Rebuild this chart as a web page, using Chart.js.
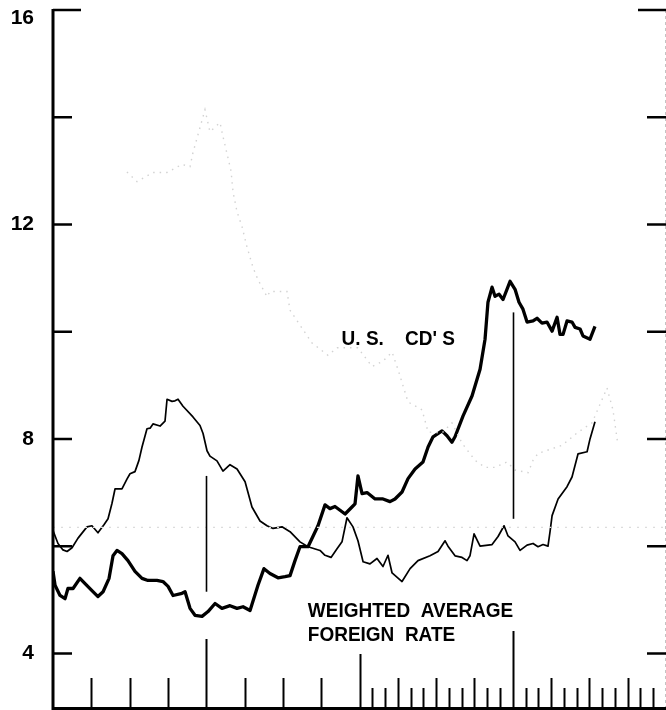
<!DOCTYPE html>
<html>
<head>
<meta charset="utf-8">
<title>U.S. CD's vs weighted average foreign rate</title>
<script src="https://cdn.jsdelivr.net/npm/chart.js@4/dist/chart.umd.min.js"></script>
<style>
  html, body { margin: 0; padding: 0; background: #fff; }
  canvas { display: block; }
</style>
</head>
<body>
<canvas id="rateChart" width="666" height="710"></canvas>
<script>
// time axis is in months from the left edge (4 years = 48 months)
const cdMonths = [0, 0.16, 0.55, 0.94, 1.17, 1.57, 2.11, 2.51, 3.05, 3.52, 3.92, 4.39, 4.7, 5.01, 5.4, 5.87, 6.42, 6.97, 7.44, 8.14, 8.61, 9.01, 9.4, 10.1, 10.34, 10.73, 11.12, 11.67, 12.14, 12.69, 13.23, 13.86, 14.41, 14.88, 15.43, 16.05, 16.52, 16.99, 17.62, 18.17, 18.56, 18.95, 19.34, 19.97, 20.75, 21.3, 21.69, 22.08, 22.87, 23.41, 23.65, 23.88, 24.2, 24.59, 25.22, 25.84, 26.39, 26.78, 27.33, 27.8, 28.35, 28.97, 29.37, 29.76, 30.46, 30.85, 31.24, 31.48, 32.11, 32.81, 33.44, 33.83, 34.06, 34.38, 34.61, 34.93, 35.24, 35.79, 36.18, 36.49, 36.8, 37.12, 37.59, 37.9, 38.29, 38.68, 39.08, 39.47, 39.7, 39.94, 40.25, 40.64, 40.88, 41.27, 41.5, 42.05, 42.44];
const cdRates = [5.53, 5.27, 5.08, 5.02, 5.21, 5.21, 5.4, 5.3, 5.17, 5.06, 5.15, 5.4, 5.82, 5.92, 5.86, 5.73, 5.53, 5.4, 5.36, 5.36, 5.34, 5.25, 5.08, 5.12, 5.15, 4.84, 4.71, 4.69, 4.78, 4.93, 4.84, 4.89, 4.84, 4.87, 4.8, 5.27, 5.58, 5.49, 5.41, 5.43, 5.45, 5.73, 5.99, 5.99, 6.38, 6.77, 6.7, 6.74, 6.6, 6.73, 6.79, 7.31, 6.98, 7.0, 6.88, 6.88, 6.83, 6.88, 7.01, 7.26, 7.44, 7.57, 7.85, 8.04, 8.15, 8.06, 7.94, 8.04, 8.43, 8.8, 9.3, 9.86, 10.55, 10.83, 10.66, 10.7, 10.6, 10.94, 10.79, 10.55, 10.42, 10.18, 10.2, 10.25, 10.16, 10.18, 10.01, 10.27, 9.95, 9.95, 10.2, 10.18, 10.08, 10.05, 9.92, 9.86, 10.1];

const foreignMonths = [0, 0.39, 0.78, 1.1, 1.49, 1.96, 2.66, 3.05, 3.52, 3.99, 4.31, 4.62, 4.86, 5.4, 5.79, 6.03, 6.42, 6.73, 6.97, 7.36, 7.6, 7.83, 8.38, 8.77, 8.93, 9.32, 9.55, 9.79, 10.18, 10.96, 11.51, 11.75, 12.06, 12.29, 12.84, 13.31, 13.86, 14.41, 15.04, 15.58, 16.21, 16.76, 17.23, 17.93, 18.56, 19.34, 19.97, 20.91, 21.3, 21.77, 22.24, 22.63, 23.02, 23.49, 23.88, 24.28, 24.82, 25.37, 25.84, 26.23, 26.55, 27.33, 27.96, 28.58, 29.52, 30.15, 30.7, 30.93, 31.48, 32.03, 32.42, 32.65, 32.97, 33.44, 34.38, 34.85, 35.32, 35.63, 36.18, 36.57, 37.12, 37.59, 37.98, 38.37, 38.76, 38.92, 39.08, 39.55, 40.25, 40.64, 41.11, 41.82, 42.05, 42.44];
const foreignRates = [6.29, 6.05, 5.93, 5.9, 5.97, 6.15, 6.36, 6.38, 6.25, 6.4, 6.51, 6.8, 7.07, 7.07, 7.25, 7.35, 7.39, 7.6, 7.85, 8.19, 8.2, 8.28, 8.24, 8.33, 8.74, 8.7, 8.71, 8.74, 8.61, 8.41, 8.25, 8.1, 7.78, 7.68, 7.59, 7.4, 7.52, 7.44, 7.2, 6.73, 6.47, 6.38, 6.33, 6.36, 6.27, 6.08, 5.99, 5.92, 5.83, 5.79, 5.95, 6.08, 6.53, 6.36, 6.1, 5.71, 5.67, 5.77, 5.62, 5.83, 5.5, 5.34, 5.58, 5.73, 5.82, 5.9, 6.1, 6.0, 5.82, 5.79, 5.73, 5.82, 6.23, 6.0, 6.03, 6.18, 6.38, 6.19, 6.08, 5.92, 6.02, 6.05, 5.99, 6.03, 6.0, 6.27, 6.57, 6.88, 7.11, 7.29, 7.72, 7.76, 8.0, 8.32];

// faint dotted trace showing through the page
const faintMonths = [5.79, 6.58, 7.83, 8.93, 10.1, 10.73, 10.96, 11.9, 12.29, 13.08, 13.31, 13.94, 14.1, 14.41, 14.8, 15.19, 15.66, 16.05, 16.76, 16.99, 18.32, 18.56, 20.28, 21.53, 22.24, 23.88, 24.98, 25.84, 26.55, 27.02, 27.8, 28.9, 29.37, 30.46, 31.24, 32.03, 33.05, 33.83, 34.61, 35.55, 36.18, 37.2, 37.59, 37.98, 39.86, 41.03, 42.21, 43.38, 43.85, 44.24];
const faintRates = [12.98, 12.8, 12.97, 12.97, 13.12, 13.08, 13.34, 14.14, 13.73, 13.9, 13.64, 13.0, 12.6, 12.24, 11.96, 11.58, 11.2, 10.97, 10.65, 10.75, 10.75, 10.4, 9.79, 9.56, 9.7, 9.7, 9.35, 9.45, 9.62, 9.29, 8.69, 8.54, 8.13, 8.11, 8.3, 7.92, 7.6, 7.47, 7.47, 7.57, 7.42, 7.37, 7.6, 7.73, 7.88, 8.11, 8.3, 8.95, 8.54, 7.88];
const faintLevelMonths = [0, 48];
const faintLevelRates = [6.35, 6.35];

const yLabels = [4, 8, 12, 16];
const yTicks = [4, 6, 8, 10, 12, 14, 16];

// vertical marker lines: month, from rate, to rate
const markerMonths = [12, 36];
const markerFrom = [5.15, 6.51];
const markerTo = [7.31, 10.36];

const toPoints = (xs, ys) => xs.map((m, i) => ({ x: m, y: ys[i] }));

const frameColor = "#000";
const labelFont = "bold 20px 'Liberation Sans', Arial, sans-serif";

const textNotes = [
  { text: "U. S.    CD' S", month: 22.6, rate: 9.75 },
  { text: "WEIGHTED  AVERAGE", month: 19.95, rate: 4.68 },
  { text: "FOREIGN  RATE", month: 19.95, rate: 4.23 },
];

const framePlugin = {
  id: "framePlugin",
  afterDatasetsDraw(chart) {
    const { ctx, chartArea, scales } = chart;
    const xs = scales.x;
    const ys = scales.y;
    const left = chartArea.left;
    const right = chartArea.right;
    const top = chartArea.top;
    const bottom = chartArea.bottom;

    ctx.save();
    ctx.strokeStyle = frameColor;
    ctx.lineCap = "butt";

    // marker lines
    ctx.lineWidth = 1.6;
    markerMonths.forEach((m, i) => {
      const px = Math.round(xs.getPixelForValue(m)) + 0.5;
      ctx.beginPath();
      ctx.moveTo(px, ys.getPixelForValue(markerFrom[i]));
      ctx.lineTo(px, ys.getPixelForValue(markerTo[i]));
      ctx.stroke();
    });

    // right border, faint
    ctx.strokeStyle = "#c4c4c4";
    ctx.lineWidth = 1;
    ctx.setLineDash([3, 3]);
    ctx.beginPath();
    ctx.moveTo(right - 0.5, top);
    ctx.lineTo(right - 0.5, bottom);
    ctx.stroke();
    ctx.setLineDash([]);

    ctx.strokeStyle = frameColor;

    // left and bottom axes
    ctx.lineWidth = 3;
    ctx.beginPath();
    ctx.moveTo(left, top - 1);
    ctx.lineTo(left, bottom + 1.5);
    ctx.lineTo(right, bottom + 1.5);
    ctx.stroke();

    // y ticks, inside on both sides
    ctx.lineWidth = 2.5;
    yTicks.forEach((v) => {
      const py = ys.getPixelForValue(v);
      const len = v === 16 ? 28 : 19;
      ctx.beginPath();
      ctx.moveTo(left, py);
      ctx.lineTo(left + len, py);
      ctx.moveTo(right - len, py);
      ctx.lineTo(right, py);
      ctx.stroke();
    });

    // x ticks: quarters for the first two years, months afterwards
    ctx.lineWidth = 2;
    for (let m = 1; m < 48; m++) {
      let len = 0;
      if (m === 12) len = 68;
      else if (m === 24) len = 53;
      else if (m === 36) len = 76;
      else if (m % 3 === 0) len = 29;
      else if (m > 24) len = 19;
      if (!len) continue;
      const px = Math.round(xs.getPixelForValue(m)) + 0.5;
      ctx.beginPath();
      ctx.moveTo(px, bottom);
      ctx.lineTo(px, bottom - len);
      ctx.stroke();
    }

    // y labels
    ctx.fillStyle = frameColor;
    ctx.font = "bold 21px 'Liberation Sans', Arial, sans-serif";
    ctx.textAlign = "right";
    ctx.textBaseline = "middle";
    yLabels.forEach((v) => {
      const py = Math.max(ys.getPixelForValue(v), top + 8);
      ctx.fillText(String(v), left - 19, py);
    });

    // series labels, slightly narrowed like the original lettering
    ctx.font = labelFont;
    ctx.textAlign = "left";
    ctx.textBaseline = "alphabetic";
    textNotes.forEach((n) => {
      const tx = xs.getPixelForValue(n.month);
      const ty = ys.getPixelForValue(n.rate);
      ctx.save();
      ctx.translate(tx, ty);
      ctx.scale(0.95, 1.02);
      ctx.fillText(n.text, 0, 0);
      ctx.restore();
    });

    ctx.restore();
  },
};

new Chart(document.getElementById("rateChart"), {
  type: "line",
  data: {
    datasets: [
      {
        label: "faint level",
        data: toPoints(faintLevelMonths, faintLevelRates),
        borderColor: "#dcdcdc",
        borderWidth: 1.2,
        borderDash: [2, 6],
        pointRadius: 0,
      },
      {
        label: "faint trace",
        data: toPoints(faintMonths, faintRates),
        borderColor: "#d2d2d2",
        borderWidth: 1.4,
        borderDash: [1.5, 5],
        pointRadius: 0,
      },
      {
        label: "Weighted average foreign rate",
        data: toPoints(foreignMonths, foreignRates),
        borderColor: "#000",
        borderWidth: 1.7,
        pointRadius: 0,
        borderJoinStyle: "round",
      },
      {
        label: "U.S. CD's",
        data: toPoints(cdMonths, cdRates),
        borderColor: "#000",
        borderWidth: 3.3,
        pointRadius: 0,
        borderJoinStyle: "round",
      },
    ],
  },
  options: {
    responsive: false,
    animation: false,
    layout: { padding: { left: 53, right: 0, top: 10, bottom: 3 } },
    plugins: {
      legend: { display: false },
      tooltip: { enabled: false },
    },
    scales: {
      x: { type: "linear", min: 0, max: 48, display: false },
      y: { type: "linear", min: 3, max: 16, display: false },
    },
  },
  plugins: [framePlugin],
});
</script>
</body>
</html>
